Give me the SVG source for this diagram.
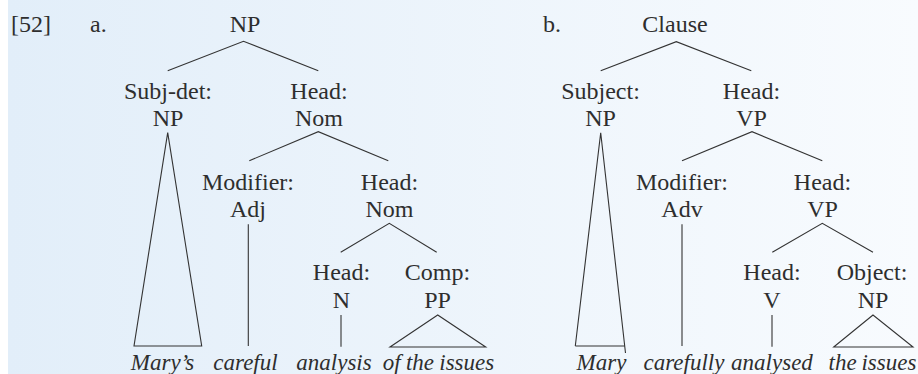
<svg xmlns="http://www.w3.org/2000/svg" width="918" height="374" viewBox="0 0 918 374">
<defs>
<linearGradient id="bg" x1="0" y1="0" x2="1" y2="0">
<stop offset="0" stop-color="#e2eef9"/>
<stop offset="1" stop-color="#f8fbfe"/>
</linearGradient>
</defs>
<style>
.t{font-family:'Liberation Serif',serif;font-size:24px;fill:#2e2e2e;text-anchor:middle}
.w{font-style:italic;font-size:23px}
.l{text-anchor:start}
.c{stroke:#333;stroke-width:1.1;fill:none}
</style>
<rect x="0" y="0" width="918" height="374" fill="#ffffff"/>
<rect x="8" y="0" width="910" height="374" fill="url(#bg)"/>
<text class="t l" font-family="Liberation Serif" x="11" y="32">[52]</text>
<text class="t l" font-family="Liberation Serif" x="90" y="32">a.</text>
<text class="t l" font-family="Liberation Serif" x="543" y="32">b.</text>

<g id="a-NP"><text class="t" font-family="Liberation Serif" x="245" y="32">NP</text></g>
<g id="a-subjdet"><text class="t" font-family="Liberation Serif" x="168" y="98.5">Subj-det:</text><text class="t" font-family="Liberation Serif" x="168" y="126">NP</text></g>
<g id="a-headnom"><text class="t" font-family="Liberation Serif" x="319" y="98.5">Head:</text><text class="t" font-family="Liberation Serif" x="319" y="126">Nom</text></g>
<g id="a-mod"><text class="t" font-family="Liberation Serif" x="248" y="190">Modifier:</text><text class="t" font-family="Liberation Serif" x="248" y="217">Adj</text></g>
<g id="a-headnom2"><text class="t" font-family="Liberation Serif" x="389.5" y="190">Head:</text><text class="t" font-family="Liberation Serif" x="389.5" y="217">Nom</text></g>
<g id="a-headN"><text class="t" font-family="Liberation Serif" x="341.5" y="279.5">Head:</text><text class="t" font-family="Liberation Serif" x="341.5" y="308">N</text></g>
<g id="a-comp"><text class="t" font-family="Liberation Serif" x="437.5" y="279.5">Comp:</text><text class="t" font-family="Liberation Serif" x="437.5" y="308">PP</text></g>
<g id="a-words">
<text class="t w" font-family="Liberation Serif" x="162.5" y="370">Mary’s</text>
<text class="t w" font-family="Liberation Serif" x="245.5" y="370">careful</text>
<text class="t w" font-family="Liberation Serif" x="334" y="370">analysis</text>
<text class="t w" font-family="Liberation Serif" x="438.5" y="370" word-spacing="-0.5">of the issues</text>
</g>

<g id="b-clause"><text class="t" font-family="Liberation Serif" x="675" y="32">Clause</text></g>
<g id="b-subj"><text class="t" font-family="Liberation Serif" x="600.5" y="98.5">Subject:</text><text class="t" font-family="Liberation Serif" x="600.5" y="126">NP</text></g>
<g id="b-headvp"><text class="t" font-family="Liberation Serif" x="751.5" y="98.5">Head:</text><text class="t" font-family="Liberation Serif" x="751.5" y="126">VP</text></g>
<g id="b-mod"><text class="t" font-family="Liberation Serif" x="682" y="190">Modifier:</text><text class="t" font-family="Liberation Serif" x="682" y="217">Adv</text></g>
<g id="b-headvp2"><text class="t" font-family="Liberation Serif" x="822.5" y="190">Head:</text><text class="t" font-family="Liberation Serif" x="822.5" y="217">VP</text></g>
<g id="b-headV"><text class="t" font-family="Liberation Serif" x="772" y="279.5">Head:</text><text class="t" font-family="Liberation Serif" x="772" y="308">V</text></g>
<g id="b-obj"><text class="t" font-family="Liberation Serif" x="872" y="279.5">Object:</text><text class="t" font-family="Liberation Serif" x="873" y="308">NP</text></g>
<g id="b-words">
<text class="t w" font-family="Liberation Serif" x="601.5" y="370">Mary</text>
<text class="t w" font-family="Liberation Serif" x="684" y="370">carefully</text>
<text class="t w" font-family="Liberation Serif" x="772" y="370">analysed</text>
<text class="t w" font-family="Liberation Serif" x="872.5" y="370" word-spacing="-1">the issues</text>
</g>

<g id="connectors">
<polyline class="c" points="167.7,70.7 243.5,41.3 318.3,70.7"/>
<polygon class="c" points="167.7,132.7 134,346 201.7,346"/>
<polyline class="c" points="249.3,160.7 318.3,131.7 388.3,160.7"/>
<line class="c" x1="248.3" y1="224.3" x2="248.3" y2="346"/>
<polyline class="c" points="340.7,252.3 389.3,223.3 436.7,252.3"/>
<line class="c" x1="341" y1="315" x2="341" y2="346.7"/>
<polygon class="c" points="437.7,315 390,347 485.7,347"/>
<polyline class="c" points="600.7,70.7 676.3,41.7 751.3,70.7"/>
<polyline class="c" points="575.3,346 600.7,132.7 625.5,353"/>
<line class="c" x1="575.3" y1="346" x2="624.7" y2="346"/>
<polyline class="c" points="682,160.7 752,131.7 822.3,160.7"/>
<line class="c" x1="682" y1="224.3" x2="682" y2="346"/>
<polyline class="c" points="772.3,252.3 822.3,223.3 873,252.3"/>
<line class="c" x1="772" y1="315" x2="772" y2="346.7"/>
<polygon class="c" points="873,315 833.7,347 913,347"/>
</g>
</svg>
